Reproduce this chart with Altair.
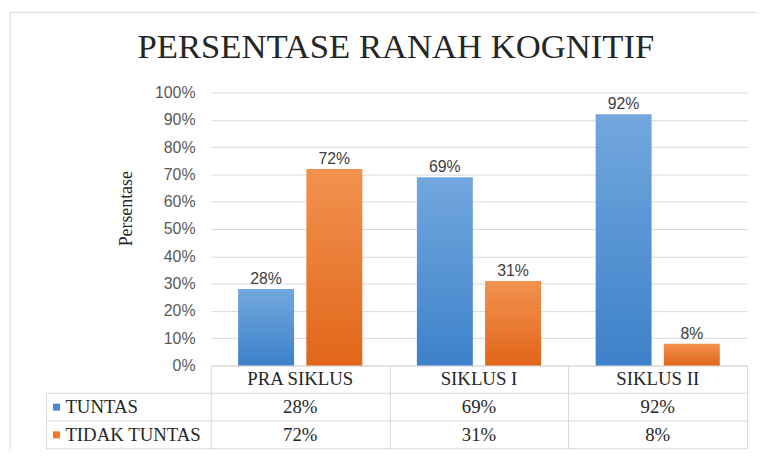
import altair as alt
import pandas as pd

# ---- data ----
categories = ["PRA SIKLUS", "SIKLUS I", "SIKLUS II"]
series_names = ["TUNTAS", "TIDAK TUNTAS"]
tuntas = [0.28, 0.69, 0.92]
tidak_tuntas = [0.72, 0.31, 0.08]
y_ticks = [0.0, 0.1, 0.2, 0.3, 0.4, 0.5, 0.6, 0.7, 0.8, 0.9, 1.0]
title_text = "PERSENTASE RANAH KOGNITIF"
y_title = "Persentase"
table_rows = ["header", "TUNTAS", "TIDAK TUNTAS"]

# ---- style ----
W, H = 542, 276
GRID = "#D9D9D9"
BLUE_SQ = "#4489D4"
ORANGE_SQ = "#EE7625"
blue_grad = alt.Gradient(gradient="linear", x1=0, x2=0, y1=0, y2=1,
                         stops=[alt.GradientStop(color="#72A7DE", offset=0),
                                alt.GradientStop(color="#3D81CA", offset=1)])
orange_grad = alt.Gradient(gradient="linear", x1=0, x2=0, y1=0, y2=1,
                           stops=[alt.GradientStop(color="#F2924F", offset=0),
                                  alt.GradientStop(color="#E1661A", offset=1)])

# ---- tables built from the arrays ----
bar_records = []
tab_records = []
for c, t, n in zip(categories, tuntas, tidak_tuntas):
    bar_records.append({"category": c, "series": series_names[0], "value": t})
    bar_records.append({"category": c, "series": series_names[1], "value": n})
    tab_records.append({"category": c, "row": table_rows[0], "text": c})
    tab_records.append({"category": c, "row": table_rows[1], "text": f"{t:.0%}"})
    tab_records.append({"category": c, "row": table_rows[2], "text": f"{n:.0%}"})
bars_df = pd.DataFrame(bar_records)
tab_df = pd.DataFrame(tab_records)
legend_df = pd.DataFrame({"row": series_names})
dummy = pd.DataFrame({"k": [0]})

x_enc = alt.X("category:N", sort=categories,
              scale=alt.Scale(domain=categories, paddingInner=0, paddingOuter=0),
              axis=alt.Axis(title=None, labels=False, domain=True, domainColor=GRID,
                            ticks=True, tickBand="extent", tickSize=84, tickColor=GRID,
                            grid=False))
xo_enc = alt.XOffset("series:N", scale=alt.Scale(domain=series_names,
                                                  paddingInner=0.18, paddingOuter=0.40))
y_axis = alt.Axis(values=y_ticks, format=".0%", title=y_title, domain=False, ticks=False,
                  grid=True, gridColor=GRID, labelPadding=16,
                  labelFont="Liberation Sans", labelFontSize=16, labelColor="#595959",
                  titleFont="Liberation Serif", titleFontSize=18, titleFontWeight="normal",
                  titleColor="#262626", titleX=-76, titleY=117)
y_enc = alt.Y("value:Q", scale=alt.Scale(domain=[0, 1]), axis=y_axis)

bars_t = alt.Chart(bars_df).transform_filter(alt.datum.series == series_names[0]).mark_bar(
    color=blue_grad).encode(x=x_enc, xOffset=xo_enc, y=y_enc)
bars_n = alt.Chart(bars_df).transform_filter(alt.datum.series == series_names[1]).mark_bar(
    color=orange_grad).encode(x=x_enc, xOffset=xo_enc, y=y_enc)
labels = alt.Chart(bars_df).mark_text(font="Liberation Sans", fontSize=16, color="#404040",
                                      baseline="alphabetic", dy=-5).encode(
    x=x_enc, xOffset=xo_enc, y=y_enc, text=alt.Text("value:Q", format=".0%"))
bar_layer = alt.layer(bars_t, bars_n, labels)

row_enc = alt.Y("row:N", scale=alt.Scale(type="point", domain=table_rows,
                                         range=[H + 14, H + 70], padding=0), axis=None)
table_text = alt.Chart(tab_df).mark_text(font="Liberation Serif", fontSize=19,
                                         color="#262626").encode(
    x=x_enc, y=row_enc, text="text:N")
row_labels = alt.Chart(legend_df).mark_text(font="Liberation Serif", fontSize=19,
                                            color="#262626", align="left").encode(
    x=alt.value(-147), y=row_enc, text="row:N")
squares = alt.Chart(legend_df).mark_point(shape="square", filled=True, size=49,
                                          opacity=1).encode(
    x=alt.value(-156), y=row_enc,
    color=alt.Color("row:N", scale=alt.Scale(domain=series_names,
                                             range=[BLUE_SQ, ORANGE_SQ]), legend=None))

def hline(yv, x0, x1):
    return alt.Chart(dummy).mark_rule(color=GRID, strokeWidth=1).encode(
        x=alt.value(x0), x2=alt.value(x1), y=alt.value(yv))

def vline(xv, y0, y1):
    return alt.Chart(dummy).mark_rule(color=GRID, strokeWidth=1).encode(
        x=alt.value(xv), y=alt.value(y0), y2=alt.value(y1))

lines = [hline(H + 28, -166, W), hline(H + 56, -166, W), hline(H + 84, -166, W),
         vline(-166, H + 28, H + 84),
         hline(-81, -203, W + 12), vline(-203, -81, H + 85)]

table_layer = alt.layer(*lines, table_text, row_labels, squares)

chart = alt.layer(bar_layer, table_layer).resolve_scale(y="independent").properties(
    width=W, height=H,
    autosize=alt.AutoSizeParams(type="none"),
    padding={"left": 205, "top": 83, "right": 10, "bottom": 89},
    title=alt.Title(title_text, font="Liberation Serif", fontSize=35, fontWeight="normal",
                    color="#262626", anchor="middle", dx=-84, offset=-82,
                    baseline="alphabetic"),
).configure_view(stroke=None)

chart.save("out.html", embed_options={"renderer": "svg", "actions": False})
